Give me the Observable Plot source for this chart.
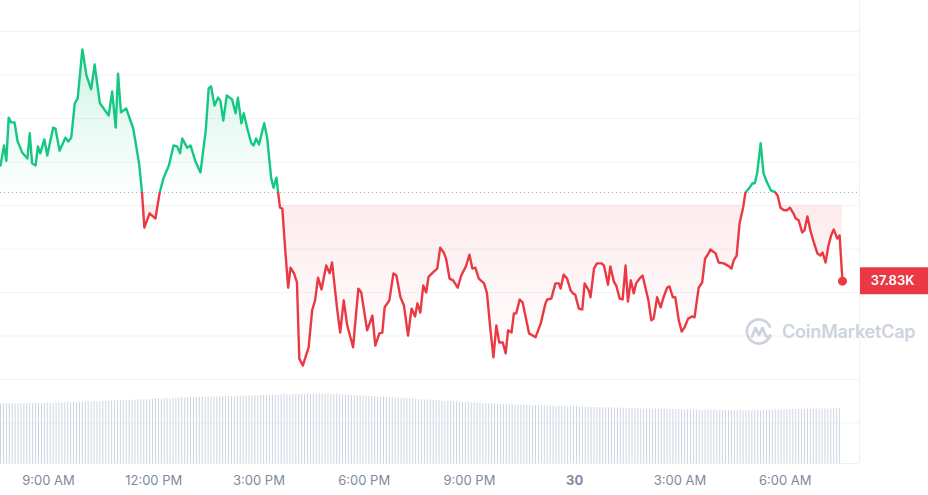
<!DOCTYPE html>
<html>
<head>
<meta charset="utf-8">
<script src="https://cdn.jsdelivr.net/npm/d3@7"></script>
<script src="https://cdn.jsdelivr.net/npm/@observablehq/plot@0.6"></script>
<style>
html,body{margin:0;padding:0;background:#fff;}
#wrap{position:relative;width:928px;height:495px;overflow:hidden;font-family:Inter,sans-serif;}
#wrap svg.plot{position:absolute;left:0;top:0;}
.border{position:absolute;left:859px;top:0;width:1px;height:463px;background:#eef0f4;}
#wm{position:absolute;left:744px;top:317px;height:30px;display:flex;align-items:center;gap:8px;color:#cdd3de;font:600 18px Inter,sans-serif;letter-spacing:-0.2px;line-height:30px;}
</style>
</head>
<body>
<div id="wrap"><div class="border"></div></div>
<script>
// ---- data ----
const start = new Date(2023, 10, 29, 7, 38);   // first sample (local time)
const spanMinutes = 1440;
const openPrice = 38030;                          // reference (dotted) level
const priceMinutes = [
  0,6,10,14,18,24,29,37,46,50,54,60,64,68,75,80,90,94,101,111,116,121,127,132,140,147,155,161,170,185,191,197,201,206,215,227,237,242,
  246,255,265,272,279,288,296,302,307,311,319,325,333,342,351,356,360,366,372,376,381,387,396,402,406,412,416,423,429,433,437,442,451,456,463,467,472,475,478,482,487,492,496,
  502,507,511,517,527,533,538,543,549,557,563,567,576,581,587,593,603,612,617,627,636,641,648,653,657,665,672,677,684,690,697,703,709,713,718,723,728,732,741,747,752,758,762,768,774,782,788,796,802,807,812,818,827,832,838,843,848,853,859,864,868,874,878,882,888,893,904,910,915,924,932,935,942,949,955,958,963,969,975,
  979,983,989,995,999,1006,1009,1015,1020,1028,1032,1039,1043,1049,1053,1059,1064,1069,1073,1078,1083,1087,1093,1098,1103,1108,1113,1117,1123,1129,1134,1140,1144,1150,1154,1160,1165,1170,1176,1183,1187,1194,1200,1205,1211,1214,
  1223,1228,1237,1246,1250,1254,1259,1264,1270,1274,1281,1286,1290,1294,1300,1305,1311,1318,1324,1329,1334,1340,1345,1350,1356,1360,1365,1371,1375,1380,1385,1391,1397,1402,1406,1411,1416,1421,1425,1431,1435,1440
];
const prices = [
  38092,38138,38103,38202,38191,38191,38149,38122,38108,38166,38097,38092,38136,38120,38152,38115,38179,38177,38126,38156,38147,38156,38235,38246,38359,38299,38267,38324,38235,38207,38262,38179,38303,38214,38223,38177,38097,38030,
  37949,37982,37970,38028,38064,38092,38138,38136,38120,38154,38133,38138,38103,38076,38172,38269,38274,38230,38248,38241,38195,38253,38244,38212,38248,38189,38212,38172,38143,38138,38154,38140,38189,38156,38062,38041,38064,38028,37995,37993,37897,37811,37857,
  37844,37823,37648,37632,37674,37759,37782,37834,37807,37862,37844,37869,37759,37708,37782,37724,37674,37809,37800,37713,37747,37678,37706,37708,37766,37782,37844,37839,37789,37770,37701,37763,37745,37775,37754,37816,37800,37836,37848,37855,37903,37892,37878,37832,37828,37811,37839,37860,37887,37855,37857,37832,37821,37798,37713,37651,37724,37685,37685,37660,37713,37708,37752,37752,37784,37777,37706,37701,37697,37729,37775,37784,37786,37821,37821,37809,37841,37832,37805,
  37798,37795,37763,37761,37821,37805,37789,37855,37867,37867,37862,37818,37860,37825,37816,37786,37784,37862,37779,37828,37798,37821,37832,37839,37811,37782,37736,37740,37789,37766,37789,37811,37814,37789,37789,37736,37710,37720,37740,37745,37743,37811,37823,37878,37890,37899,
  37890,37869,37867,37860,37855,37874,37885,37959,37995,38030,38041,38051,38051,38074,38143,38074,38053,38034,38032,38023,37995,37989,37989,37995,37982,37970,37966,37938,37943,37975,37943,37915,37890,37885,37892,37869,37908,37933,37945,37924,37931,37826
];
const gridPrices = [37500,37600,37700,37800,37900,38000,38100,38200,38300,38400];
// 24h volume (billions USD), one value per 5-minute bar
const volume5m = [
  17.2,17.3,17.2,17.3,17.3,17.2,17.3,17.4,17.3,17.3,17.4,17.3,
  17.4,17.4,17.3,17.4,17.5,17.4,17.4,17.5,17.5,17.4,17.5,17.6,
  17.6,17.7,17.6,17.7,17.8,17.7,17.8,17.8,17.9,17.8,17.9,18.0,
  18.0,18.1,18.0,18.1,18.2,18.2,18.1,18.2,18.3,18.3,18.2,18.4,
  18.4,18.5,18.4,18.5,18.6,18.6,18.7,18.6,18.7,18.8,18.7,18.8,
  18.9,18.9,19.0,18.9,19.0,19.1,19.0,19.1,19.1,19.2,19.1,19.2,
  19.2,19.3,19.2,19.3,19.3,19.4,19.3,19.4,19.4,19.5,19.4,19.5,
  19.5,19.6,19.5,19.6,19.6,19.7,19.7,19.6,19.7,19.8,19.7,19.8,
  19.8,19.9,19.9,19.8,19.9,20.0,19.9,20.0,20.0,20.1,20.0,20.0,
  20.0,20.1,20.0,20.0,20.1,20.0,19.9,20.0,19.9,19.8,19.9,19.8,
  19.7,19.7,19.6,19.6,19.5,19.5,19.4,19.4,19.3,19.3,19.2,19.2,
  19.1,19.0,19.0,18.9,18.9,18.8,18.8,18.7,18.7,18.6,18.6,18.5,
  18.4,18.4,18.3,18.3,18.2,18.2,18.1,18.0,18.0,17.9,17.9,17.8,
  17.8,17.7,17.7,17.6,17.6,17.5,17.5,17.4,17.4,17.3,17.3,17.3,
  17.2,17.2,17.1,17.1,17.1,17.0,17.0,17.0,16.9,16.9,16.9,16.8,
  16.8,16.8,16.7,16.7,16.7,16.7,16.6,16.6,16.6,16.6,16.5,16.5,
  16.5,16.5,16.4,16.4,16.4,16.4,16.3,16.3,16.3,16.3,16.2,16.2,
  16.2,16.2,16.1,16.1,16.1,16.1,16.0,16.0,16.0,16.0,16.0,15.9,
  15.9,15.9,15.9,15.8,15.8,15.8,15.8,15.8,15.7,15.7,15.7,15.7,
  15.7,15.6,15.6,15.6,15.6,15.6,15.5,15.5,15.5,15.5,15.5,15.5,
  15.4,15.4,15.4,15.4,15.4,15.3,15.3,15.3,15.3,15.3,15.3,15.3,
  15.3,15.3,15.2,15.2,15.3,15.2,15.2,15.3,15.3,15.3,15.3,15.4,
  15.4,15.4,15.4,15.5,15.5,15.5,15.5,15.6,15.6,15.6,15.6,15.7,
  15.7,15.7,15.7,15.8,15.8,15.8,15.8,15.8,15.8,15.9,15.8,15.8
];
const tickTimes = ["2023-11-29T09:00","2023-11-29T12:00","2023-11-29T15:00","2023-11-29T18:00","2023-11-29T21:00","2023-11-30T00:00","2023-11-30T03:00","2023-11-30T06:00"];
const tickLabels = ["9:00 AM","12:00 PM","3:00 PM","6:00 PM","9:00 PM","30","3:00 AM","6:00 AM"];
const tickBold = [false,false,false,false,false,true,false,false];

// ---- derived tables ----
const addMin = (m) => new Date(start.getTime() + m * 60000);
const end = addMin(spanMinutes);
const series = priceMinutes.map((m, i) => ({time: addMin(m), price: prices[i]}));
const vols = volume5m.map((v, i) => ({time: addMin(i * 5), v}));
const ticks = tickTimes.map((t, i) => ({time: new Date(t), label: tickLabels[i], bold: tickBold[i]}));
const last = series[series.length - 1];

const GREEN = "#16c784", RED = "#ea3943";
const maxP = d3.max(prices), minP = d3.min(prices);
const splitOffset = (maxP - openPrice) / (maxP - minP);

const xScale = {type: "time", domain: [start, end], range: [0, 842]};
const rectSymbol = {draw(ctx) { ctx.moveTo(17, -14); ctx.lineTo(110, -14); ctx.lineTo(110, 13); ctx.lineTo(17, 13); ctx.closePath(); }};

const main = Plot.plot({
  width: 928, height: 495,
  marginTop: 31, marginBottom: 116, marginLeft: 0, marginRight: 69,
  x: {...xScale, axis: null},
  y: {domain: [37600, 38400], axis: null},
  style: {fontFamily: "Inter, sans-serif", background: "white"},
  marks: [
    Plot.ruleY(gridPrices, {stroke: "#f1f3f6", strokeWidth: 1}),
    Plot.areaY(series, {x: "time", y1: openPrice, y2: d => Math.max(d.price, openPrice), fill: "url(#greenFill)"}),
    Plot.areaY(series, {x: "time", y1: openPrice, y2: d => Math.min(d.price, openPrice), fill: "url(#redFill)"}),
    Plot.ruleY([openPrice], {stroke: "#a4aab6", strokeWidth: 1, strokeDasharray: "1,3"}),
    Plot.line(series, {x: "time", y: "price", stroke: "url(#lineGrad)", strokeWidth: 2.4}),
    Plot.dot([last], {x: "time", y: "price", r: 4.5, fill: RED}),
    Plot.dot([last], {x: "time", y: "price", r: 1, fill: RED, symbol: rectSymbol}),
    Plot.text([last], {x: "time", y: "price", text: d => (d.price / 1000).toFixed(2) + "K", dx: 50, dy: -0.5, fill: "white", fontSize: 13, fontWeight: 600})
  ]
});
main.classList.add("plot");

const defs = d3.select(main).insert("defs", ":first-child");
function grad(id, stops) {
  const g = defs.append("linearGradient").attr("id", id)
    .attr("x1", 0).attr("y1", 0).attr("x2", 0).attr("y2", 1);
  for (const [o, c, a] of stops) g.append("stop").attr("offset", o).attr("stop-color", c).attr("stop-opacity", a);
}
grad("lineGrad", [[0, GREEN, 1], [splitOffset, GREEN, 1], [splitOffset, RED, 1], [1, RED, 1]]);
grad("greenFill", [[0, GREEN, 0.22], [0.5, GREEN, 0.1], [1, GREEN, 0.01]]);
grad("redFill", [[0, RED, 0], [0.072, RED, 0], [0.075, RED, 0.1], [0.6, RED, 0.04], [1, RED, 0.01]]);

const vol = Plot.plot({
  width: 928, height: 495,
  marginTop: 380, marginBottom: 32, marginLeft: 0, marginRight: 69,
  x: {...xScale, axis: null},
  y: {domain: [0, 24], axis: null},
  style: {fontFamily: "Inter, sans-serif", background: "transparent"},
  marks: [
    Plot.ruleX(vols, {x: "time", y1: 0, y2: "v", stroke: "#cdd4e0", strokeWidth: 1}),
    Plot.ruleY([0], {stroke: "#eef0f4"}),
    Plot.text(ticks.filter(d => !d.bold), {x: "time", text: "label", frameAnchor: "bottom", dy: 17, lineAnchor: "middle", fill: "#808a9d", fontSize: 13}),
    Plot.text(ticks.filter(d => d.bold), {x: "time", text: "label", frameAnchor: "bottom", dy: 17, lineAnchor: "middle", fill: "#808a9d", fontSize: 13, fontWeight: 700})
  ]
});
vol.classList.add("plot");

const wrap = document.getElementById("wrap");
wrap.insertBefore(main, wrap.firstChild);
wrap.appendChild(vol);

const wm = document.createElement("div");
wm.id = "wm";
wm.innerHTML = '<svg width="30" height="30" viewBox="0 0 30 30"><path d="M26.2 18.5 A12 12 0 1 1 25.8 9.5" fill="none" stroke="#cdd3de" stroke-width="2.8" stroke-linecap="round"/><path d="M8 19.5 L11.5 11 L15 18 L18.5 11 L21.5 18.5 Q23 21 26 19.5" fill="none" stroke="#cdd3de" stroke-width="2.8" stroke-linecap="round" stroke-linejoin="round"/></svg><span>CoinMarketCap</span>';
wrap.appendChild(wm);
</script>
</body>
</html>
